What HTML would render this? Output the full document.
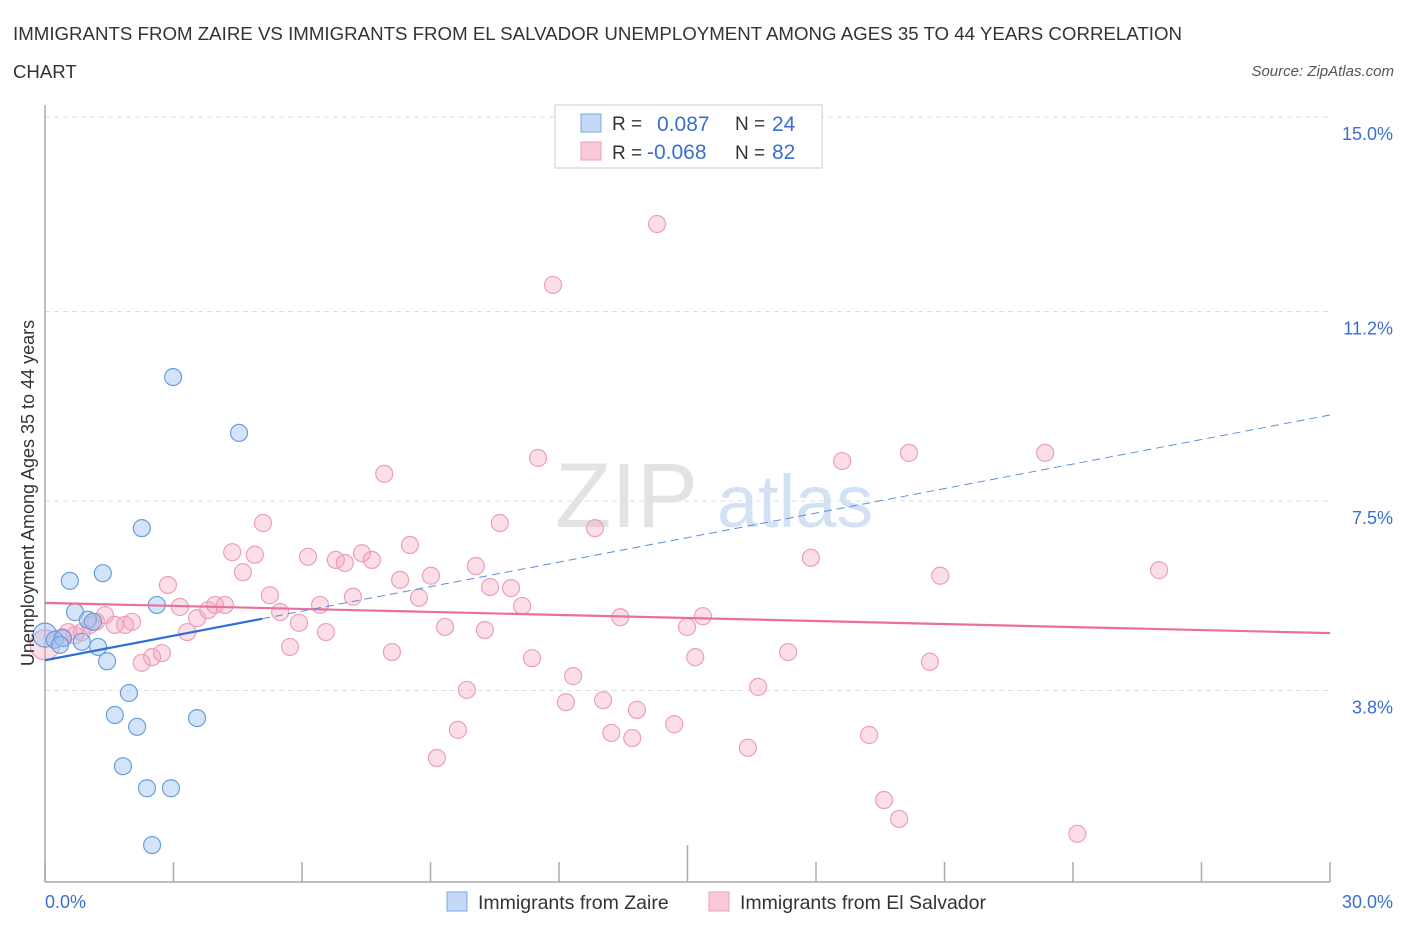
<!DOCTYPE html>
<html><head><meta charset="utf-8"><style>
body{margin:0;background:#fff;font-family:"Liberation Sans",sans-serif}
svg text{font-family:"Liberation Sans",sans-serif}
</style></head><body>
<svg width="1406" height="930" xmlns="http://www.w3.org/2000/svg" id="chart">
<text x="13" y="40" font-size="18.6" fill="#333" textLength="1169" lengthAdjust="spacingAndGlyphs">IMMIGRANTS FROM ZAIRE VS IMMIGRANTS FROM EL SALVADOR UNEMPLOYMENT AMONG AGES 35 TO 44 YEARS CORRELATION</text>
<text x="13" y="78" font-size="18.6" fill="#333">CHART</text>
<text x="1394" y="76" font-size="15" fill="#555" text-anchor="end" font-style="italic">Source: ZipAtlas.com</text>
<text x="555" y="527" font-size="92" fill="#ddd" font-family="Liberation Serif" opacity="0.8">ZIP</text>
<text x="717" y="527" font-size="74" fill="#c9daf2" opacity="0.8">atlas</text>
<g id="grid"></g>
<g id="axes"></g>
<g id="lines"></g>
<g id="pts"></g>
<text transform="translate(34,493) rotate(-90)" font-size="18" fill="#333" text-anchor="middle">Unemployment Among Ages 35 to 44 years</text>
<g>
<rect x="555" y="105" width="267" height="63" fill="#fff" stroke="#ccc"/>
<rect x="581" y="114" width="20" height="18" fill="#c4d9f6" stroke="#7aa7e4"/>
<rect x="581" y="142" width="20" height="18" fill="#f9c9d8" stroke="#eba0b9"/>
<text x="612" y="130" font-size="19" fill="#333">R = </text><text x="657" y="131" font-size="21" fill="#3a6fd0">0.087</text>
<text x="735" y="130" font-size="19" fill="#333">N = </text><text x="772" y="131" font-size="21" fill="#3a6fd0">24</text>
<text x="612" y="159" font-size="19" fill="#333">R = </text><text x="647" y="159" font-size="21" fill="#3a6fd0">-0.068</text>
<text x="735" y="159" font-size="19" fill="#333">N = </text><text x="772" y="159" font-size="21" fill="#3a6fd0">82</text>
</g>
<g>
<rect x="447" y="892" width="20" height="19" fill="#c4d9f6" stroke="#7aa7e4"/>
<text x="478" y="909" font-size="19.5" fill="#333">Immigrants from Zaire</text>
<rect x="709" y="892" width="20" height="19" fill="#f9c9d8" stroke="#eba0b9"/>
<text x="740" y="909" font-size="19.5" fill="#333">Immigrants from El Salvador</text>
</g>
</svg>
<script>
const blueX=[0,0.23,0.42,0.58,0.70,0.86,1.00,1.12,1.24,1.35,1.45,1.63,1.96,2.15,1.82,2.26,2.38,2.94,2.61,2.99,3.55,2.50,4.53,0.35];
const blueY=[4.88,4.79,4.82,5.94,5.33,4.75,5.18,5.14,4.65,6.09,4.37,3.32,3.75,3.09,2.32,6.97,1.89,1.89,5.47,9.92,3.26,0.78,8.83,4.69];
const pinkX=[0,0.23,0.40,0.54,0.70,0.86,1.05,1.19,1.40,1.63,1.87,2.03,2.26,2.50,2.73,2.87,3.15,3.32,3.55,3.81,3.97,4.20,4.37,4.62,4.90,5.09,5.25,5.49,5.72,5.93,6.14,6.42,6.56,6.79,7.00,7.19,7.40,7.63,7.92,8.10,8.29,8.52,8.73,9.01,9.34,9.64,9.85,9.15,10.06,10.27,10.39,10.62,10.88,11.14,11.37,11.51,11.86,12.16,12.33,12.84,13.03,13.22,13.43,13.71,13.82,14.29,14.69,14.99,15.18,15.36,16.41,16.65,17.35,17.88,18.61,19.24,19.59,19.94,20.17,20.66,20.90,23.35,24.10,26.01];
const pinkY=[4.69,4.79,4.84,4.94,4.88,4.94,5.08,5.14,5.27,5.08,5.08,5.14,4.34,4.45,4.53,5.86,5.43,4.94,5.21,5.37,5.47,5.47,6.50,6.11,6.45,7.07,5.66,5.33,4.65,5.12,6.41,5.47,4.94,6.35,6.29,5.63,6.48,6.35,8.03,4.55,5.96,6.64,5.61,6.04,5.04,3.03,3.81,2.48,6.23,4.98,5.82,7.07,5.80,5.45,4.43,8.34,11.72,3.57,4.08,6.97,3.61,2.97,5.23,2.87,3.42,12.91,3.14,5.04,4.45,5.25,2.68,3.87,4.55,6.39,8.28,2.93,1.66,1.29,8.44,4.36,6.04,8.44,1.00,6.15];
const yTicks=[15.0,11.2,7.5,3.8];
const yTickLabels=["15.0%","11.2%","7.5%","3.8%"];
const xTickVals=[0,3,6,9,12,15,18,21,24,27,30];
const pinkTrend=[5.51,4.92];
const blueTrend=[4.39,9.18];
const blueSolidEnd=5.07;
const NS="http://www.w3.org/2000/svg";
const sx=v=>45+v*(1285/30);
const sy=v=>117+(15-v)*51.2;
function mk(tag,attrs,parent){const e=document.createElementNS(NS,tag);for(const k in attrs)e.setAttribute(k,attrs[k]);document.getElementById(parent).appendChild(e);return e;}
yTicks.forEach((t,i)=>{
  const l=mk('line',{x1:45,x2:1330,y1:sy(t),y2:sy(t),stroke:'#ddd','stroke-dasharray':'5,4'},'grid');
  
  
  const tx=mk('text',{x:1393,y:sy(t)+23,'font-size':18,fill:'#3a6fd0','text-anchor':'end'},'grid');
  tx.textContent=yTickLabels[i];
  
  
});
let a=mk('line',{x1:45,x2:45,y1:105,y2:882,stroke:'#aaa','stroke-width':1.5},'axes');


a=mk('line',{x1:45,x2:1330,y1:882,y2:882,stroke:'#aaa','stroke-width':1.5},'axes');


xTickVals.forEach((t,i)=>{
  const tk=mk('line',{x1:sx(t),x2:sx(t),y1:(i==5?845:862),y2:882,stroke:'#aaa','stroke-width':1.5},'axes');
  
  
});
let t=mk('text',{x:45,y:908,'font-size':18,fill:'#3a6fd0'},'axes');t.textContent='0.0%';


t=mk('text',{x:1393,y:908,'font-size':18,fill:'#3a6fd0','text-anchor':'end'},'axes');t.textContent='30.0%';


function pt(x,y,r,fill,stroke,name){const c=mk('circle',{cx:sx(x),cy:sy(y),r:r,fill:fill,stroke:stroke,'stroke-width':1.2},'pts');
  
  }
pinkX.forEach((x,i)=>pt(x,pinkY[i],i==0?15:8.5,'rgba(244,160,190,0.35)','#eba0b9','pink-point'));
blueX.forEach((x,i)=>pt(x,blueY[i],i==0?12:8.5,'rgba(160,195,240,0.45)','#6a9ee0','blue-point'));
let ln=mk('line',{x1:sx(0),y1:sy(pinkTrend[0]),x2:sx(30),y2:sy(pinkTrend[1]),stroke:'#e8709a','stroke-width':2.2},'pts');


const by=x=>blueTrend[0]+(blueTrend[1]-blueTrend[0])*x/30;
ln=mk('line',{x1:sx(0),y1:sy(by(0)),x2:sx(blueSolidEnd),y2:sy(by(blueSolidEnd)),stroke:'#2d6fd6','stroke-width':2.2},'pts');


ln=mk('line',{x1:sx(blueSolidEnd),y1:sy(by(blueSolidEnd)),x2:sx(30),y2:sy(by(30)),stroke:'#5a8fdc','stroke-width':1,'stroke-dasharray':'8,5'},'pts');


</script>
</body></html>
